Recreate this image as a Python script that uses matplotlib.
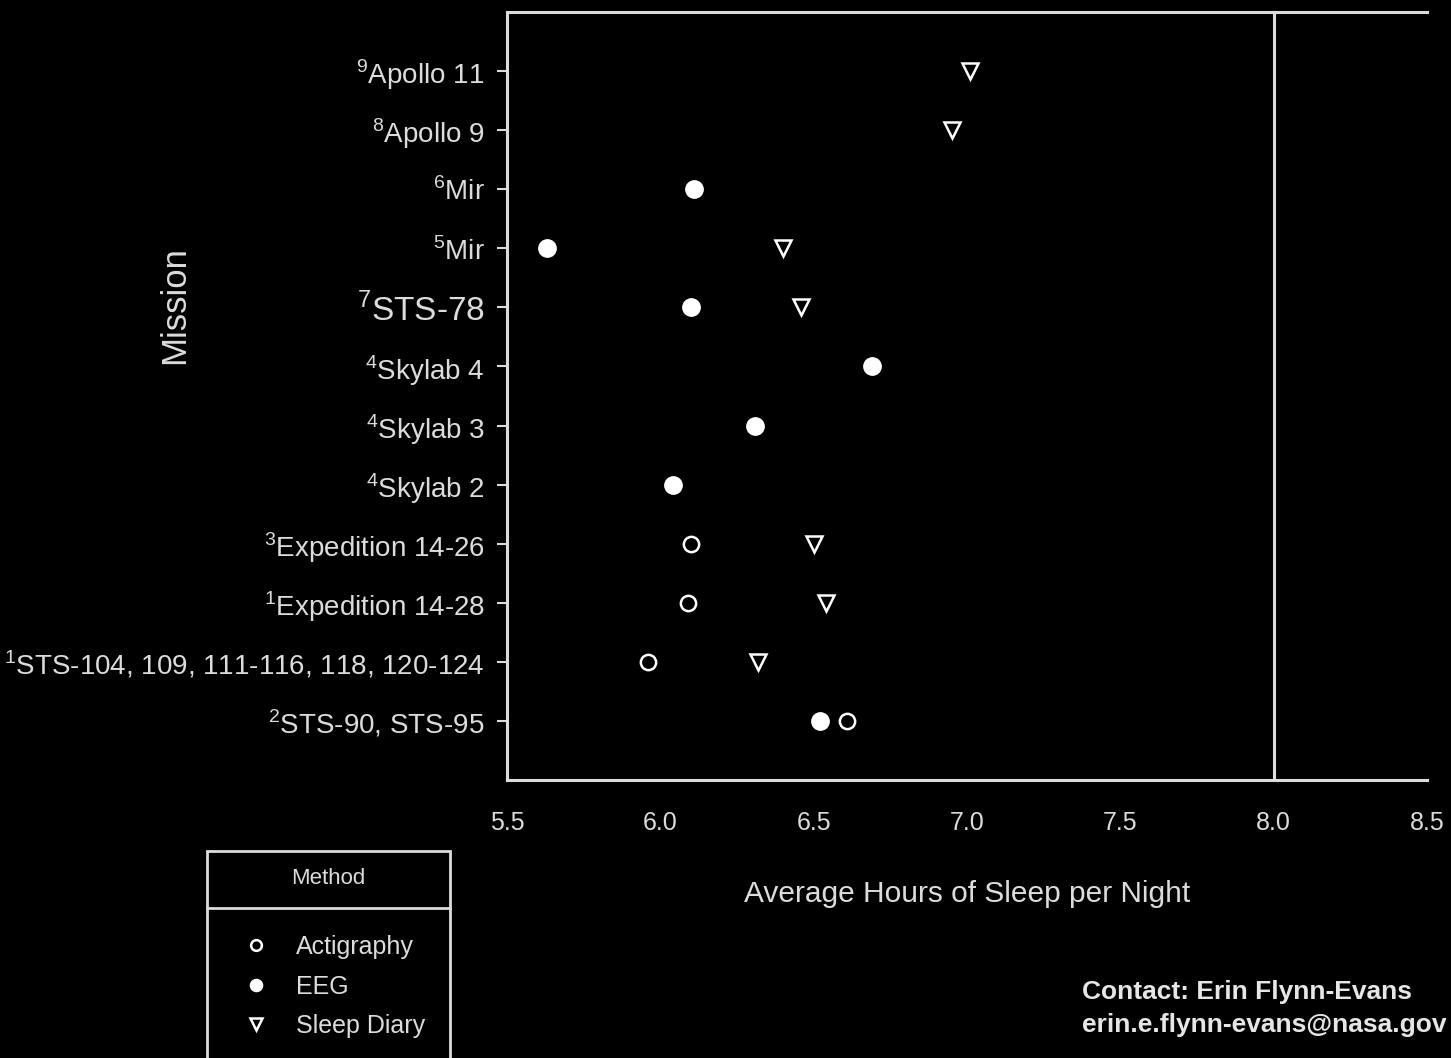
import matplotlib.pyplot as plt
import matplotlib.lines as mlines
import matplotlib.patches as mpatches
import numpy as np

# missions, bottom to top
missions = ["STS-90, STS-95", "STS-104, 109, 111-116, 118, 120-124",
            "Expedition 14-28", "Expedition 14-26", "Skylab 2", "Skylab 3",
            "Skylab 4", "STS-78", "Mir", "Mir", "Apollo 9", "Apollo 11"]
refs = ["2", "1", "1", "3", "4", "4", "4", "7", "5", "6", "8", "9"]

nan = np.nan
actigraphy = [6.61, 5.96, 6.09, 6.10, nan, nan, nan, nan, nan, nan, nan, nan]
eeg = [6.52, nan, nan, nan, 6.04, 6.31, 6.69, 6.10, 5.63, 6.11, nan, nan]
diary = [nan, 6.32, 6.54, 6.50, nan, nan, nan, 6.46, 6.40, nan, 6.95, 7.01]

xticks = [5.5, 6.0, 6.5, 7.0, 7.5, 8.0, 8.5]

fg = "#dcdcdc"
plt.rcParams["font.family"] = ["Liberation Sans", "DejaVu Sans"]
plt.rcParams["mathtext.fontset"] = "custom"
plt.rcParams["mathtext.rm"] = "Liberation Sans"

fig = plt.figure(figsize=(14.51, 10.58), dpi=100, facecolor="black")
ax = fig.add_axes([507/1451, 1-780/1058, 920/1451, 768/1058])
ax.set_facecolor("black")

y = np.arange(len(missions))
l1, = ax.plot(actigraphy, y, "o", ms=11, mfc="none", mec="white", mew=1.8, label="Actigraphy")
l2, = ax.plot(eeg, y, "o", ms=12.5, mfc="white", mec="white", label="EEG")
l3, = ax.plot(diary, y, "v", ms=12, mfc="none", mec="white", mew=1.8, label="Sleep Diary")

ax.axvline(8.0, color=fg, lw=2.2)

ax.set_xlim(5.5, 8.5)
ax.set_ylim(-1, 12)
ax.set_xticks(xticks)
ax.set_xticklabels(["%.1f" % t for t in xticks], fontsize=18, color=fg)
ax.set_yticks(y)
ylabels = [r"${}^{\mathregular{%s}}$%s" % (r, m) for r, m in zip(refs, missions)]
ax.set_yticklabels(ylabels, fontsize=20, color=fg)
for t in ax.get_yticklabels():
    if "STS-78" in t.get_text():
        t.set_fontsize(24)
ax.tick_params(axis="x", length=0, pad=22)
ax.tick_params(axis="y", length=7, width=1.5, color=fg, pad=9)

for s in ["left", "top", "bottom"]:
    ax.spines[s].set_color(fg)
    ax.spines[s].set_linewidth(2.2)
ax.spines["right"].set_visible(False)

ax.set_xlabel("Average Hours of Sleep per Night", fontsize=21.5, color=fg)
ax.xaxis.set_label_coords(0.5, -0.13)
fig.text(175/1451, 1-305/1058, "Mission", rotation=90, fontsize=25,
         color=fg, ha="center", va="center")

# legend box with a title cell
fig.add_artist(mpatches.Rectangle((207/1451, -0.01), 243/1451, 1-851/1058+0.01,
                                  transform=fig.transFigure, fill=False,
                                  edgecolor=fg, lw=2))
fig.add_artist(mlines.Line2D([207/1451, 450/1451], [1-908/1058, 1-908/1058],
                             transform=fig.transFigure, color=fg, lw=2))
fig.text(328/1451, 1-878/1058, "Method", fontsize=16, color=fg,
         ha="center", va="center")
leg = fig.legend(handles=[l1, l2, l3], loc="upper left",
                 bbox_to_anchor=(243/1451, 1-935/1058), frameon=False,
                 fontsize=18, markerscale=0.7, handlelength=1.0,
                 handletextpad=1.1, labelspacing=0.62, borderpad=0,
                 borderaxespad=0)
for t in leg.get_texts():
    t.set_color(fg)

fig.text(1082/1451, 1-992/1058, "Contact: Erin Flynn-Evans", fontsize=19,
         fontweight="bold", color="#e6e6e6", ha="left", va="center")
fig.text(1082/1451, 1-1025/1058, "erin.e.flynn-evans@nasa.gov", fontsize=19,
         fontweight="bold", color="#e6e6e6", ha="left", va="center")

fig.savefig("out.png", dpi=100, facecolor="black")
